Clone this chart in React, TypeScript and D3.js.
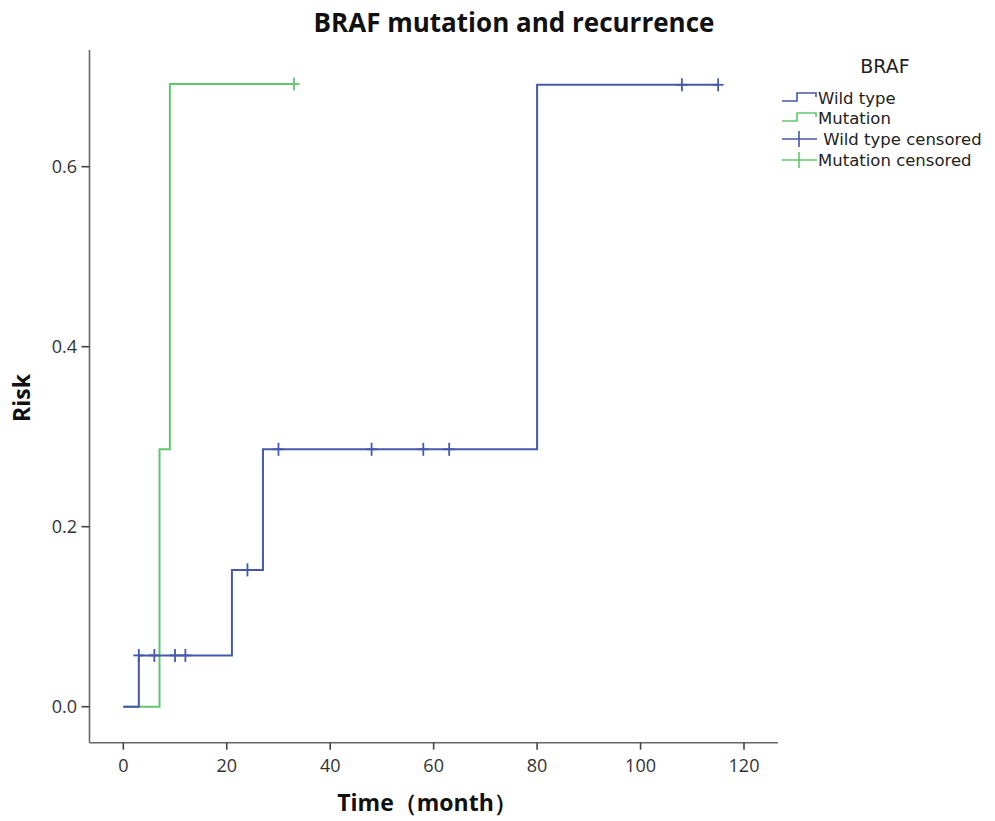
import React from "react";
import * as d3 from "d3";

// ---- data ----
const xTicks = [0, 20, 40, 60, 80, 100, 120];
const yTicks = [0.0, 0.2, 0.4, 0.6];

// step points: [time, risk]
const wildTypeSteps: [number, number][] = [
  [0, 0],
  [3, 0.057],
  [21, 0.152],
  [27, 0.286],
  [80, 0.691],
];
const wildTypeEnd = 115;
const wildTypeCensored = [3, 6, 10, 12, 24, 30, 48, 58, 63, 108, 115];

const mutationSteps: [number, number][] = [
  [0, 0],
  [7, 0.286],
  [9, 0.692],
];
const mutationEnd = 33;
const mutationCensored = [33];

const legendLabels = ["Wild type", "Mutation", " Wild type censored", "Mutation censored"];

const BLUE = "#4558aa";
const GREEN = "#5fc86c";

const W = 995;
const H = 821;
const plotLeft = 89.5;
const plotRight = 778;
const plotTop = 50;
const plotBottom = 742.7;

const x = d3.scaleLinear().domain([0, 120]).range([123.3, 744]);
const y = d3.scaleLinear().domain([0, 0.6]).range([706.7, 166.7]);

function riskAt(steps: [number, number][], t: number) {
  let r = 0;
  for (const [st, v] of steps) if (st <= t) r = v;
  return r;
}

function stepPath(steps: [number, number][], end: number) {
  const pts: [number, number][] = steps.map((d) => [d[0], d[1]]);
  pts.push([end, steps[steps.length - 1][1]]);
  const line = d3
    .line<[number, number]>()
    .x((d) => x(d[0]))
    .y((d) => y(d[1]))
    .curve(d3.curveStepAfter);
  return line(pts) || "";
}

const FONT = "'Open Sans', 'Noto Sans', sans-serif";
const LEGEND_FONT = "'DejaVu Sans', sans-serif";

function Censor({ t, steps, color }: { t: number; steps: [number, number][]; color: string }) {
  const cx = x(t);
  const cy = y(riskAt(steps, t));
  return (
    <g stroke={color} strokeWidth={1.8}>
      <line x1={cx - 5.5} x2={cx + 5.5} y1={cy} y2={cy} />
      <line x1={cx} x2={cx} y1={cy - 6.5} y2={cy + 6.5} />
    </g>
  );
}

export default function App() {
  const legendX = 782;
  const rowY = [98, 118, 139, 160];
  return (
    <svg
      width={W}
      height={H}
      style={{ position: "absolute", left: 0, top: 0, background: "#fff" }}
      fontFamily={FONT}
    >
      {/* title */}
      <text x={514} y={32} textAnchor="middle" fontSize={26} fontWeight="bold" fill="#111">
        BRAF mutation and recurrence
      </text>

      {/* axes */}
      <g stroke="#666" strokeWidth={1.6} fill="none">
        <line x1={plotLeft} x2={plotLeft} y1={plotTop} y2={plotBottom} />
        <line x1={plotLeft} x2={plotRight} y1={plotBottom} y2={plotBottom} />
      </g>
      {xTicks.map((t) => (
        <g key={"x" + t}>
          <line x1={x(t)} x2={x(t)} y1={plotBottom} y2={plotBottom + 7} stroke="#444" strokeWidth={1.6} />
          <text x={x(t)} y={772} textAnchor="middle" fontSize={18} fill="#333">
            {t}
          </text>
        </g>
      ))}
      {yTicks.map((t) => (
        <g key={"y" + t}>
          <line x1={plotLeft - 8} x2={plotLeft} y1={y(t)} y2={y(t)} stroke="#444" strokeWidth={1.6} />
          <text x={77} y={y(t) + 6} textAnchor="end" fontSize={18} fill="#333">
            {t.toFixed(1)}
          </text>
        </g>
      ))}

      {/* axis titles */}
      <text x={427} y={811} textAnchor="middle" fontSize={23} fontWeight="bold" fill="#111">
        Time（month）
      </text>
      <text
        transform={`translate(30, 398) rotate(-90)`}
        textAnchor="middle"
        fontSize={23}
        fontWeight="bold"
        fill="#111"
      >
        Risk
      </text>

      {/* curves */}
      <path d={stepPath(mutationSteps, mutationEnd)} fill="none" stroke={GREEN} strokeWidth={2} />
      <path d={stepPath(wildTypeSteps, wildTypeEnd)} fill="none" stroke={BLUE} strokeWidth={2} />
      {mutationCensored.map((t) => (
        <Censor key={"mc" + t} t={t} steps={mutationSteps} color={GREEN} />
      ))}
      {wildTypeCensored.map((t) => (
        <Censor key={"wc" + t} t={t} steps={wildTypeSteps} color={BLUE} />
      ))}

      {/* legend */}
      <text x={885} y={73} textAnchor="middle" fontSize={19} fill="#222" fontFamily={LEGEND_FONT}>
        BRAF
      </text>
      {[BLUE, GREEN].map((c, i) => {
        const cy = rowY[i];
        const d = `M${legendX},${cy + 3}H${legendX + 15}V${cy - 5}H${legendX + 34}V${cy - 1}`;
        return <path key={"ls" + i} d={d} fill="none" stroke={c} strokeWidth={1.6} />;
      })}
      {[BLUE, GREEN].map((c, i) => {
        const cy = rowY[i + 2];
        return (
          <g key={"lc" + i} stroke={c} strokeWidth={1.6}>
            <line x1={legendX} x2={legendX + 35} y1={cy} y2={cy} />
            <line x1={legendX + 17} x2={legendX + 17} y1={cy - 8} y2={cy + 8} />
          </g>
        );
      })}
      {legendLabels.map((l, i) => (
        <text
          key={"lt" + i}
          x={818}
          y={rowY[i] + 6}
          fontSize={16.5}
          fill="#222"
          fontFamily={LEGEND_FONT}
          style={{ whiteSpace: "pre" }}
        >
          {l}
        </text>
      ))}
    </svg>
  );
}
